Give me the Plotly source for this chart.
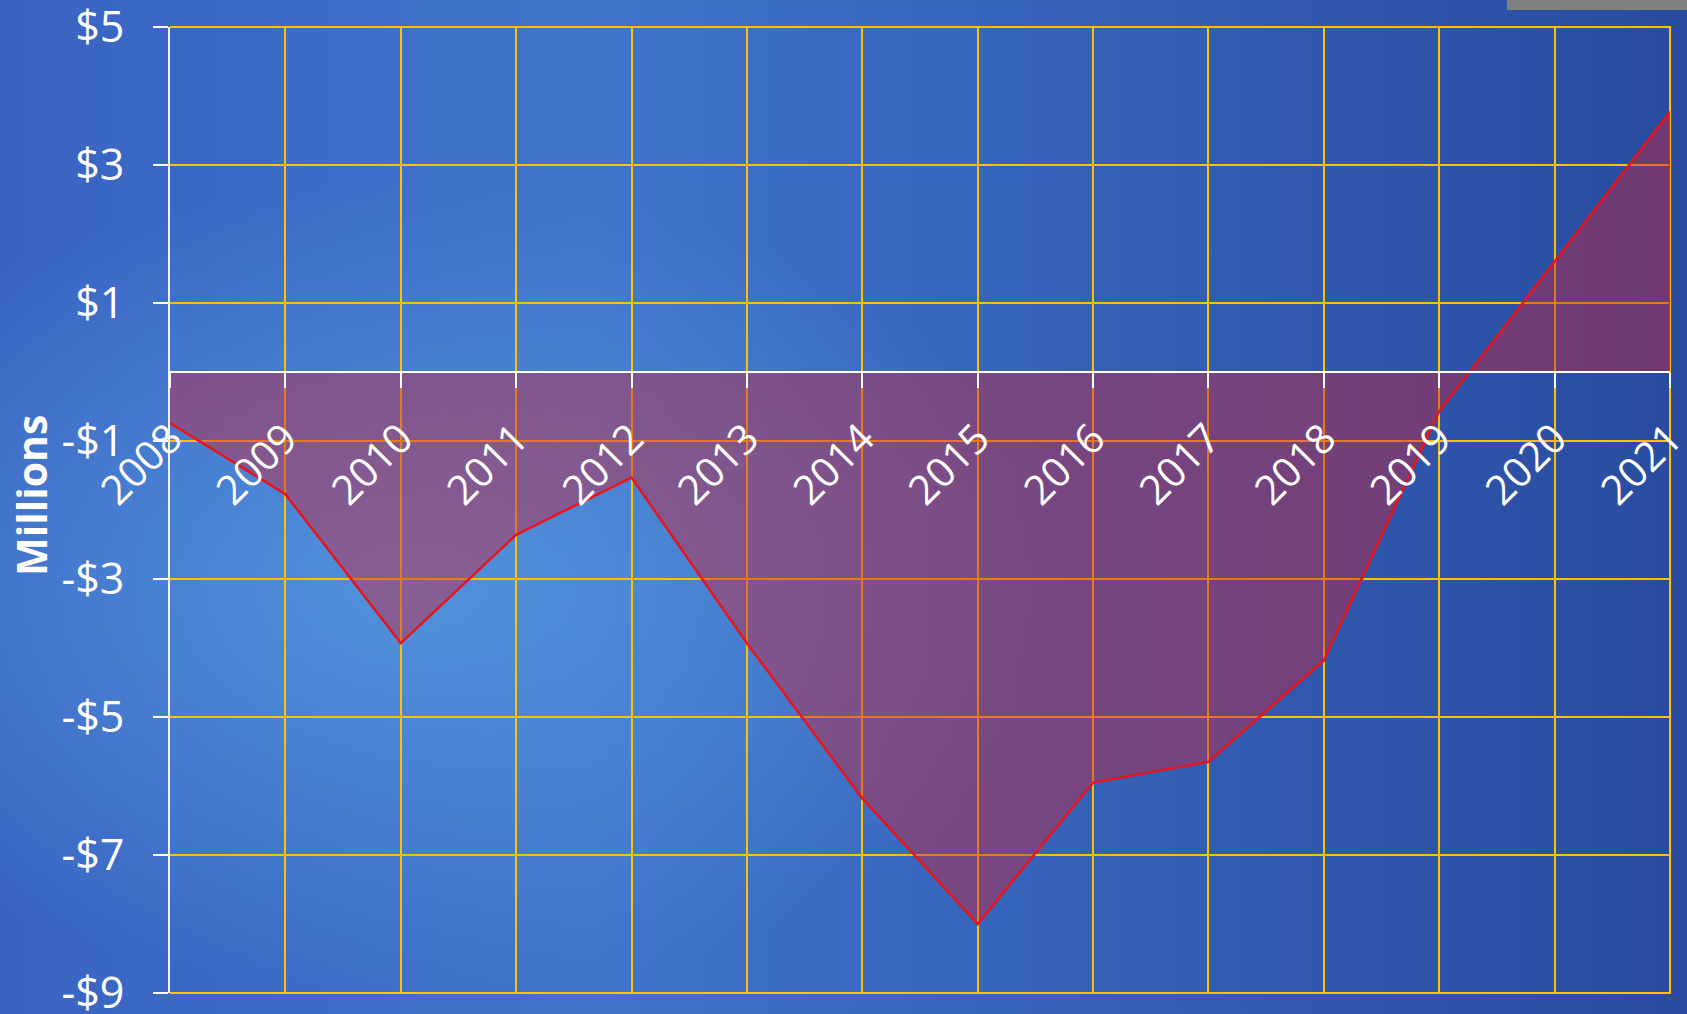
import base64
import plotly.graph_objects as go

years = [2008, 2009, 2010, 2011, 2012, 2013, 2014, 2015, 2016, 2017, 2018, 2019, 2020, 2021]
net_millions = [-0.74, -1.77, -3.93, -2.36, -1.53, -3.93, -6.18, -8.0, -5.95, -5.65, -4.18, -0.57, 1.6, 3.77]

y_ticks = [5, 3, 1, -1, -3, -5, -7, -9]
y_tick_text = ['$5', '$3', '$1', '-$1', '-$3', '-$5', '-$7', '-$9']
y_range = [-9, 5]

W, H = 1687, 1014
FONT = 'Open Sans'
GRID = '#FFC000'

# blue slide-style background, drawn as an svg gradient
svg = f'''<svg xmlns="http://www.w3.org/2000/svg" width="{W}" height="{H}" viewBox="0 0 {W} {H}" preserveAspectRatio="none">
<defs>
<linearGradient id="a" x1="0" y1="0" x2="1" y2="0">
<stop offset="0" stop-color="#3963c2"/><stop offset="0.35" stop-color="#4074cc"/><stop offset="1" stop-color="#284b9f"/>
</linearGradient>
<radialGradient id="b" cx="0.24" cy="0.58" r="0.4">
<stop offset="0" stop-color="#5597de" stop-opacity="0.85"/><stop offset="1" stop-color="#5597de" stop-opacity="0"/>
</radialGradient>
</defs>
<rect width="{W}" height="{H}" fill="url(#a)"/>
<rect width="{W}" height="{H}" fill="url(#b)"/>
</svg>'''
bg_src = 'data:image/svg+xml;base64,' + base64.b64encode(svg.encode()).decode()

x_dom = [170 / W, 1670 / W]
y_dom = [1 - 993 / H, 1 - 27 / H]
zero_pos = y_dom[0] + (0 - y_range[0]) / (y_range[1] - y_range[0]) * (y_dom[1] - y_dom[0])

fig = go.Figure()
fig.add_trace(go.Scatter(
    x=years, y=net_millions,
    mode='lines',
    line=dict(color='#e8141c', width=2.5),
    fill='tozeroy',
    fillcolor='rgba(200,35,60,0.45)',
    hoverinfo='x+y',
))
fig.add_trace(go.Scatter(
    x=[years[-1], years[-1]], y=[0, net_millions[-1]],
    mode='lines',
    line=dict(color='#f01a10', width=2.5),
    hoverinfo='skip',
))

fig.update_layout(
    width=W, height=H,
    margin=dict(l=0, r=0, t=0, b=0, pad=0),
    paper_bgcolor='#3566c0',
    plot_bgcolor='rgba(0,0,0,0)',
    showlegend=False,
    font=dict(family=FONT, color='white'),
    images=[dict(source=bg_src, xref='paper', yref='paper', x=0, y=1,
                 sizex=1, sizey=1, sizing='stretch', layer='below')],
    shapes=[
        # yellow grid on the top, right and bottom edges of the plot
        dict(type='path', xref='x domain', yref='y domain', path='M 0,1 L 1,1 L 1,0 L 0,0',
             line=dict(color=GRID, width=2), layer='below'),
        dict(type='rect', xref='paper', yref='paper', x0=1507 / W, x1=1, y0=1 - 10 / H, y1=1,
             fillcolor='#808080', line=dict(width=0)),
    ],
    annotations=[dict(text='<b>Millions</b>', xref='paper', yref='paper', x=31 / W, y=1 - 496 / H,
                      xanchor='center', yanchor='middle',
                      textangle=-90, showarrow=False, font=dict(size=41, color='white', family=FONT))],
    xaxis=dict(
        domain=x_dom, range=[years[0], years[-1]],
        anchor='free', position=zero_pos, automargin=False,
        tickvals=years, ticktext=[str(y) for y in years],
        tickangle=-45, tickfont=dict(size=41, color='white'),
        ticks='outside', ticklen=15, tickwidth=2, tickcolor='white',
        showline=True, linecolor='white', linewidth=2,
        showgrid=True, gridcolor=GRID, gridwidth=2,
        zeroline=False, ticklabelstandoff=10, ticklabeloverflow='allow',
    ),
    yaxis=dict(
        domain=y_dom, range=y_range, automargin=False,
        tickvals=y_ticks, ticktext=y_tick_text,
        tickfont=dict(size=43, color='white'),
        ticks='outside', ticklen=15, tickwidth=2, tickcolor='white',
        showline=True, linecolor='#f4f0e4', linewidth=2,
        showgrid=True, gridcolor=GRID, gridwidth=2,
        zeroline=False, ticklabelstandoff=20, ticklabeloverflow='allow',
    ),
)

fig.write_html('out.html', config={'displayModeBar': False},
               post_script="document.body.style.margin='0';")
